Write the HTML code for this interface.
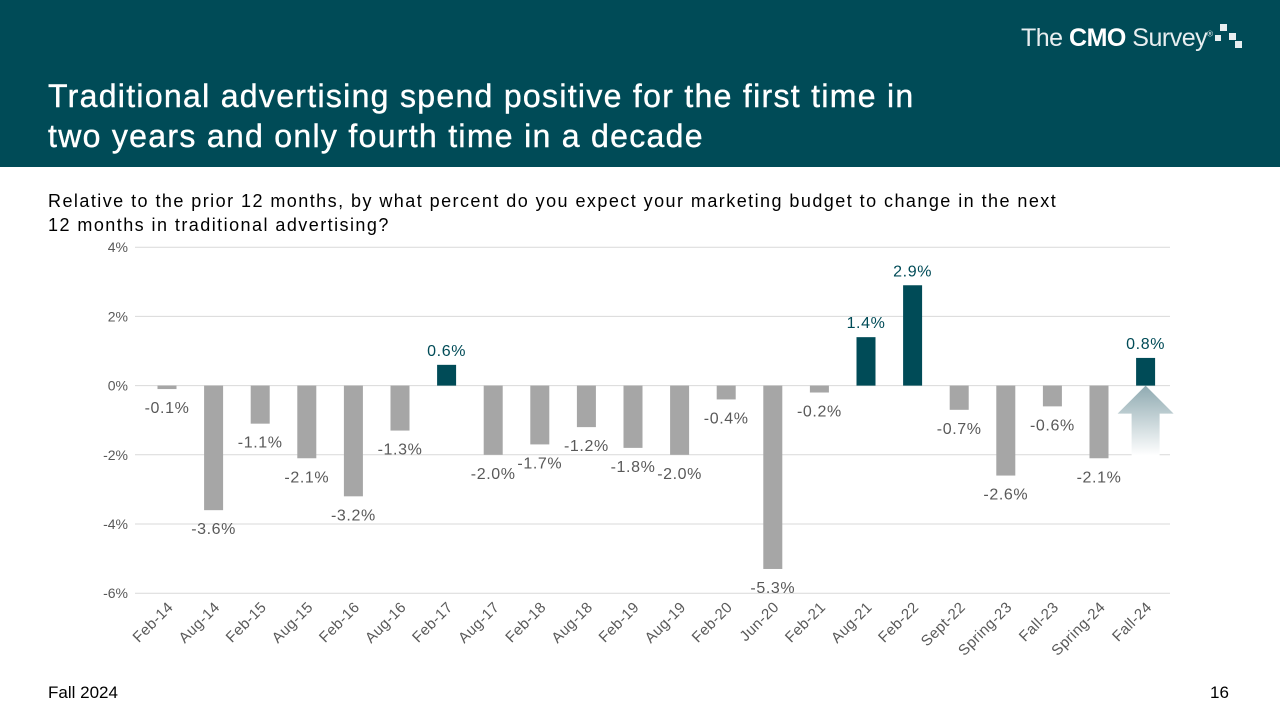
<!DOCTYPE html>
<html><head><meta charset="utf-8"><style>
body{margin:0;width:1280px;height:720px;overflow:hidden;background:#fff;font-family:"Liberation Sans",Arial,sans-serif;position:relative}
#hdr{position:absolute;left:0;top:0;width:1280px;height:167px;background:#004b57}
#title{position:absolute;left:48px;top:76px;color:#fff;font-size:32px;line-height:40px;letter-spacing:1.3px;-webkit-text-stroke:0.4px #fff}
#logo{position:absolute;left:1021px;top:22px;color:#e8eef0;font-size:25px;letter-spacing:-0.5px}
#q{position:absolute;left:48px;top:189px;font-size:18px;line-height:24px;color:#000;letter-spacing:1.45px}
.ft{position:absolute;top:683px;font-size:17px;color:#000}
</style></head><body>
<div id="hdr"></div>
<div id="logo">The <b style="color:#fff">CMO</b> Survey<sup style="font-size:8px">®</sup><svg width="40" height="28" style="vertical-align:-4px;margin-left:2px"><rect x="5" y="2" width="7" height="7" fill="#e8eef0"/><rect x="0" y="13" width="6" height="6" fill="#e8eef0"/><rect x="14" y="11" width="7" height="7" fill="#e8eef0"/><rect x="20" y="19" width="7" height="7" fill="#e8eef0"/></svg></div>
<div id="title">Traditional advertising spend positive for the first time in<br>two years and only fourth time in a decade</div>
<div id="q">Relative to the prior 12 months, by what percent do you expect your marketing budget to change in the next<br>12 months in traditional advertising?</div>
<div class="ft" style="left:48px">Fall 2024</div>
<div class="ft" style="left:1210px">16</div>
<svg id="chart" width="1280" height="720" style="position:absolute;left:0;top:0">
<defs><linearGradient id="ag" x1="0" y1="0" x2="0" y2="1"><stop offset="0" stop-color="#8faab1"/><stop offset="1" stop-color="#ffffff"/></linearGradient></defs>
</svg>
<script>
const categories=["Feb-14","Aug-14","Feb-15","Aug-15","Feb-16","Aug-16","Feb-17","Aug-17","Feb-18","Aug-18","Feb-19","Aug-19","Feb-20","Jun-20","Feb-21","Aug-21","Feb-22","Sept-22","Spring-23","Fall-23","Spring-24","Fall-24"];
const values=[-0.1,-3.6,-1.1,-2.1,-3.2,-1.3,0.6,-2.0,-1.7,-1.2,-1.8,-2.0,-0.4,-5.3,-0.2,1.4,2.9,-0.7,-2.6,-0.6,-2.1,0.8];
const yTicks=[4,2,0,-2,-4,-6];
const svg=document.getElementById('chart');const NS='http://www.w3.org/2000/svg';
const y=v=>385.6-(v)*34.6;
const x=i=>167+i*46.6;
function mk(t,a){const e=document.createElementNS(NS,t);for(const k in a)e.setAttribute(k,a[k]);svg.appendChild(e);return e;}
yTicks.forEach(t=>{
 const l=mk('line',{x1:135,x2:1170,y1:y(t),y2:y(t),stroke:'#d9d9d9','stroke-width':1});
 
 
 const tx=mk('text',{x:128,y:y(t)+5,'text-anchor':'end','font-size':14,fill:'#595959'});tx.textContent=t+'%';
 
 
});
const a=mk('path',{d:`M${x(21)} ${y(0)} L${x(21)+28} ${y(0)+28} L${x(21)+14} ${y(0)+28} L${x(21)+14} ${y(0)+70} L${x(21)-14} ${y(0)+70} L${x(21)-14} ${y(0)+28} L${x(21)-28} ${y(0)+28} Z`,fill:'url(#ag)'});


values.forEach((v,i)=>{
 const pos=v>0,c=pos?'#004b57':'#a6a6a6';
 const b=mk('rect',{x:x(i)-9.5,width:19,y:Math.min(y(v),y(0)),height:Math.abs(y(v)-y(0)),fill:c});
 
 
 const t=mk('text',{x:x(i),y:pos?y(v)-9:y(v)+24,'text-anchor':'middle','font-size':16,'letter-spacing':0.6,fill:pos?'#004b57':'#595959'});
 t.textContent=v.toFixed(1)+'%';
 
 
 const cx=x(i)+7,cy=608;
 const c2=mk('text',{x:cx,y:cy,'text-anchor':'end','font-size':15,'letter-spacing':0.4,fill:'#595959',transform:`rotate(-45 ${cx} ${cy})`});
 c2.textContent=categories[i];
 
 
});
</script>
</body></html>
